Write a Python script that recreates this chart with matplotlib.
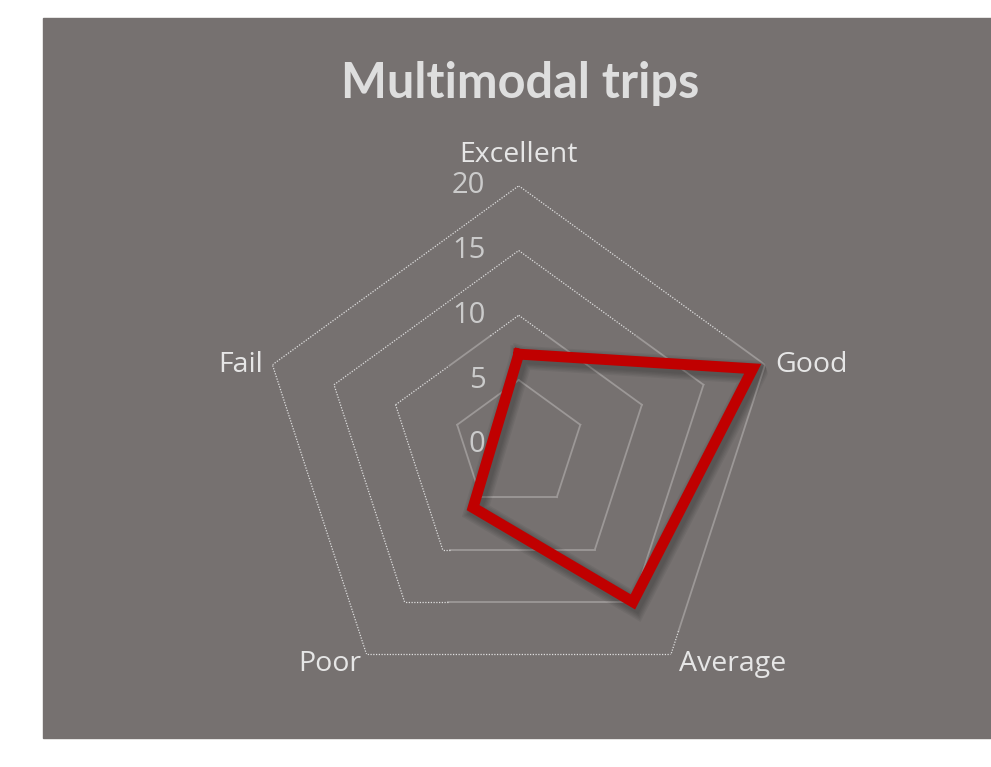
import numpy as np
import matplotlib.pyplot as plt
from matplotlib.patches import Rectangle
import matplotlib.patheffects as pe

# данные
categories = ['Excellent', 'Good', 'Average', 'Poor', 'Fail']
values = [7, 19, 15, 6, 2]
rings = [5, 10, 15, 20]
tick_labels = ['0', '5', '10', '15', '20']

n = len(categories)
theta = np.arange(n) * 2 * np.pi / n

fig = plt.figure(figsize=(9.91, 7.67), dpi=100)
fig.patches.append(Rectangle((43 / 991, 29 / 767), 948 / 991, 720 / 767,
                             transform=fig.transFigure, color='#767170', zorder=-1))

ax = fig.add_axes([0.2621, 0.0824, 0.5227, 0.6754], projection='polar')
ax.set_zorder(1)
ax.set_theta_offset(np.pi / 2)
ax.set_theta_direction(-1)
ax.set_ylim(0, 20)
ax.grid(False)
ax.spines['polar'].set_visible(False)
ax.set_xticks([])
ax.set_yticks([])
ax.patch.set_alpha(0)


def chord(r, i, t):
    # точка на ребре многоугольника между вершинами i и i+1
    a, b = theta[i % n], theta[(i + 1) % n]
    x = (1 - t) * r * np.cos(a) + t * r * np.cos(b)
    y = (1 - t) * r * np.sin(a) + t * r * np.sin(b)
    return np.arctan2(y, x), np.hypot(x, y)


def seg(r, i, t0, t1, dotted):
    ts = np.linspace(t0, t1, 30)
    pts = [chord(r, i, t) for t in ts]
    th = [p[0] for p in pts]
    rr = [p[1] for p in pts]
    if dotted:
        ax.plot(th, rr, color='#dedede', lw=0.9, ls=(0, (1, 1.2)), zorder=2)
    else:
        ax.plot(th, rr, color='#9c9897', lw=1.3, zorder=2)


# пунктирные участки сетки (ребро -> список интервалов)
dotted_parts = {
    5: {},
    10: {0: [(0, 0.23)], 2: [(0.95, 1)], 3: [(0, 1)], 4: [(0, 0.44), (0.77, 1)]},
    15: {0: [(0, 0.64)], 2: [(0.81, 1)], 3: [(0, 1)], 4: [(0, 1)]},
    20: {0: [(0, 0.85)], 1: [(0.92, 1)], 2: [(0, 1)], 3: [(0, 1)], 4: [(0, 1)]},
}

for r in rings:
    for i in range(n):
        parts = dotted_parts[r].get(i, [])
        pos = 0
        for t0, t1 in parts:
            if t0 > pos:
                seg(r, i, pos, t0, False)
            seg(r, i, t0, t1, True)
            pos = t1
        if pos < 1:
            seg(r, i, pos, 1, False)

# линия данных с мягкой тенью
shadow = [pe.SimpleLineShadow(offset=(2, -2.5), shadow_color='black', alpha=0.05, linewidth=w)
          for w in (17, 15, 13, 11, 9)]
th_closed = np.append(theta, theta[0])
v_closed = values + [values[0]]
ax.plot(th_closed, v_closed, color='#c00000', lw=7.8, solid_joinstyle='miter', zorder=5,
        path_effects=shadow + [pe.Normal()])

# подписи шкалы
for k, lab in enumerate(tick_labels):
    ax.annotate(lab, xy=(0, k * 5), xytext=(-24, 0), textcoords='offset points',
                ha='right', va='center', fontsize=21, color='#cbcbcb', family='Open Sans',
                annotation_clip=False)

# подписи категорий
offsets = [(0, 22, 'center', 'center'), (7, 0, 'left', 'center'), (6, -7, 'left', 'center'),
           (-4, -7, 'right', 'center'), (-7, 0, 'right', 'center')]
for k, cat in enumerate(categories):
    dx, dy, ha, va = offsets[k]
    ax.annotate(cat, xy=(theta[k], 20), xytext=(dx, dy), textcoords='offset points',
                ha=ha, va=va, fontsize=20.5, color='#e6e6e6', family='Open Sans',
                annotation_clip=False)

fig.text(520 / 991, 1 - 83 / 767, 'Multimodal trips', ha='center', va='center',
         fontsize=35, fontweight='bold', color='#dedede', family='Lato')

fig.savefig('out.png', dpi=100)
